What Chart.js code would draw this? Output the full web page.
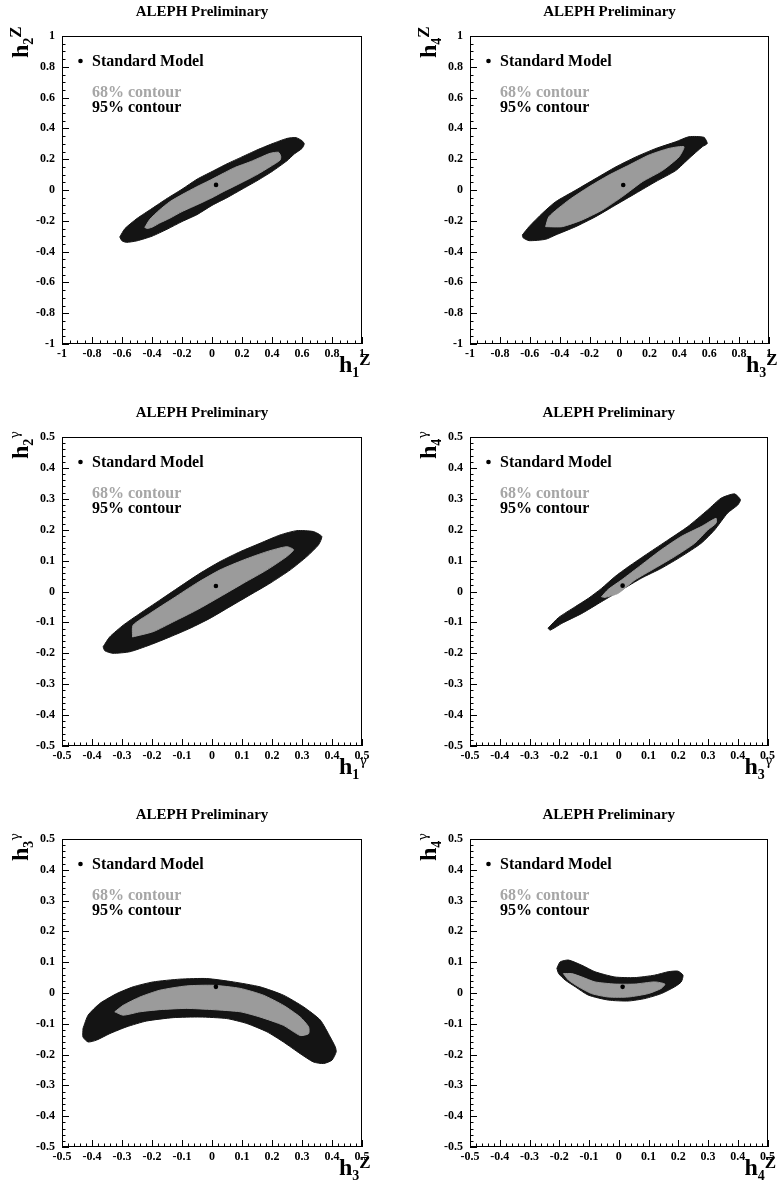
<!DOCTYPE html>
<html><head><meta charset="utf-8">
<script src="https://cdn.jsdelivr.net/npm/chart.js@4.4.1/dist/chart.umd.min.js"></script>
<style>
html,body{margin:0;padding:0;background:#fff;width:778px;height:1184px;overflow:hidden}
canvas{position:absolute}
</style></head><body>
<canvas id="c1"></canvas><canvas id="c2"></canvas>
<canvas id="c3"></canvas><canvas id="c4"></canvas>
<canvas id="c5"></canvas><canvas id="c6"></canvas>
<script>
// ---- tick values / labels ----
const tickValsWide = [-1,-0.8,-0.6,-0.4,-0.2,0,0.2,0.4,0.6,0.8,1];
const tickLabelsWide = ['-1','-0.8','-0.6','-0.4','-0.2','0','0.2','0.4','0.6','0.8','1'];
const tickValsNarrow = [-0.5,-0.4,-0.3,-0.2,-0.1,0,0.1,0.2,0.3,0.4,0.5];
const tickLabelsNarrow = ['-0.5','-0.4','-0.3','-0.2','-0.1','0','0.1','0.2','0.3','0.4','0.5'];

const titleText = 'ALEPH Preliminary';
const legendLabels = ['Standard Model','68% contour','95% contour'];

// ---- Panel 1: h1Z vs h2Z ----
const p1SM = [[0.027,0.033]];
const p1Outer = [[-0.615,-0.305],[-0.58,-0.25],[-0.50,-0.185],[-0.40,-0.12],[-0.30,-0.055],[-0.20,0.005],[-0.10,0.07],[0.0,0.12],[0.10,0.17],[0.20,0.215],[0.30,0.26],[0.40,0.30],[0.50,0.335],[0.56,0.34],[0.60,0.32],[0.615,0.30],
  [0.60,0.27],[0.55,0.235],[0.50,0.19],[0.40,0.12],[0.30,0.06],[0.20,0.005],[0.10,-0.05],[0.0,-0.10],[-0.10,-0.16],[-0.20,-0.205],[-0.30,-0.255],[-0.40,-0.30],[-0.50,-0.33],[-0.57,-0.34],[-0.60,-0.33]];
const p1Inner = [[-0.448,-0.243],[-0.414,-0.19],[-0.35,-0.13],[-0.281,-0.076],[-0.20,-0.03],[-0.102,0.021],[0.0,0.07],[0.075,0.108],[0.15,0.145],[0.254,0.183],[0.33,0.215],[0.387,0.238],[0.443,0.245],[0.458,0.22],
  [0.454,0.194],[0.387,0.151],[0.30,0.10],[0.254,0.076],[0.15,0.025],[0.075,-0.011],[0.0,-0.05],[-0.102,-0.097],[-0.20,-0.14],[-0.281,-0.183],[-0.35,-0.215],[-0.392,-0.238],[-0.43,-0.25]];

// ---- Panel 2: h3Z vs h4Z ----
const p2SM = [[0.025,0.032]];
const p2Outer = [[-0.650,-0.292],[-0.605,-0.238],[-0.516,-0.151],[-0.427,-0.076],[-0.291,0.0],[-0.157,0.076],[-0.023,0.151],[0.110,0.215],[0.244,0.270],[0.376,0.313],[0.465,0.346],[0.565,0.342],[0.587,0.302],
  [0.554,0.281],[0.465,0.205],[0.376,0.126],[0.242,0.054],[0.108,-0.022],[-0.025,-0.097],[-0.159,-0.173],[-0.293,-0.238],[-0.427,-0.292],[-0.494,-0.320],[-0.605,-0.329],[-0.645,-0.31]];
const p2Inner = [[-0.494,-0.238],[-0.472,-0.173],[-0.338,-0.065],[-0.204,0.021],[-0.070,0.097],[0.064,0.162],[0.197,0.227],[0.331,0.270],[0.431,0.281],
  [0.398,0.215],[0.286,0.126],[0.153,0.054],[0.019,-0.043],[-0.115,-0.130],[-0.249,-0.194],[-0.383,-0.238]];

// ---- Panel 3: h1g vs h2g ----
const p3SM = [[0.013,0.018]];
const p3Outer = [[-0.363,-0.179],[-0.341,-0.147],[-0.296,-0.109],[-0.240,-0.071],[-0.174,-0.028],[-0.107,0.016],[-0.040,0.059],[0.027,0.097],[0.094,0.129],[0.160,0.156],[0.227,0.183],[0.283,0.197],[0.338,0.194],[0.366,0.178],
  [0.355,0.151],[0.316,0.113],[0.261,0.070],[0.194,0.027],[0.127,-0.011],[0.060,-0.049],[-0.007,-0.087],[-0.073,-0.119],[-0.140,-0.147],[-0.207,-0.173],[-0.274,-0.195],[-0.330,-0.200],[-0.357,-0.192]];
const p3Inner = [[-0.265,-0.147],[-0.263,-0.109],[-0.207,-0.071],[-0.129,-0.022],[-0.051,0.027],[0.027,0.070],[0.105,0.102],[0.183,0.129],[0.249,0.145],[0.272,0.135],
  [0.249,0.113],[0.183,0.070],[0.105,0.027],[0.027,-0.017],[-0.051,-0.060],[-0.129,-0.098],[-0.196,-0.130]];

// ---- Panel 4: h3g vs h4g ----
const p4SM = [[0.013,0.019]];
const p4Outer = [[-0.238,-0.119],[-0.202,-0.084],[-0.146,-0.049],[-0.102,-0.022],[-0.058,0.010],[-0.013,0.048],[0.032,0.080],[0.099,0.124],[0.166,0.167],[0.232,0.210],[0.299,0.264],[0.344,0.302],[0.389,0.316],[0.409,0.297],
  [0.400,0.280],[0.366,0.254],[0.322,0.199],[0.277,0.156],[0.210,0.113],[0.143,0.075],[0.076,0.043],[0.009,0.005],[-0.058,-0.033],[-0.124,-0.071],[-0.191,-0.103],[-0.230,-0.125]];
const p4Inner = [[-0.058,-0.017],[-0.035,0.007],[0.009,0.037],[0.076,0.086],[0.143,0.135],[0.210,0.178],[0.277,0.210],[0.327,0.237],[0.327,0.221],
  [0.299,0.199],[0.255,0.156],[0.188,0.113],[0.121,0.075],[0.054,0.037],[-0.002,-0.006],[-0.046,-0.019]];

// ---- Panel 5: h3Z vs h3g ----
const p5SM = [[0.013,0.020]];
const p5Outer = [[-0.430,-0.115],[-0.413,-0.072],[-0.374,-0.034],[-0.318,-0.002],[-0.263,0.020],[-0.196,0.036],[-0.107,0.045],[-0.018,0.047],[0.071,0.036],[0.160,0.020],[0.238,-0.007],[0.305,-0.045],[0.361,-0.088],[0.394,-0.143],[0.411,-0.175],[0.414,-0.191],
  [0.400,-0.218],[0.372,-0.229],[0.338,-0.224],[0.294,-0.197],[0.238,-0.159],[0.183,-0.126],[0.116,-0.099],[0.049,-0.083],[-0.040,-0.078],[-0.129,-0.080],[-0.218,-0.091],[-0.285,-0.110],[-0.341,-0.132],[-0.385,-0.153],[-0.413,-0.159],[-0.430,-0.143]];
const p5Inner = [[-0.324,-0.061],[-0.296,-0.040],[-0.240,-0.013],[-0.174,0.009],[-0.085,0.023],[0.004,0.025],[0.094,0.015],[0.171,-0.007],[0.238,-0.040],[0.294,-0.078],[0.322,-0.110],[0.322,-0.132],
  [0.294,-0.138],[0.238,-0.105],[0.160,-0.078],[0.094,-0.061],[0.004,-0.054],[-0.085,-0.050],[-0.174,-0.054],[-0.240,-0.061],[-0.296,-0.072]];

// ---- Panel 6: h4Z vs h4g ----
const p6SM = [[0.013,0.020]];
const p6Outer = [[-0.208,0.080],[-0.197,0.101],[-0.169,0.107],[-0.124,0.090],[-0.080,0.069],[-0.013,0.052],[0.054,0.050],[0.121,0.058],[0.166,0.069],[0.199,0.071],[0.216,0.058],
  [0.210,0.036],[0.188,0.020],[0.143,-0.002],[0.088,-0.018],[0.032,-0.026],[-0.035,-0.023],[-0.102,-0.007],[-0.146,0.020],[-0.180,0.042],[-0.202,0.063]];
const p6Inner = [[-0.186,0.063],[-0.158,0.063],[-0.124,0.052],[-0.080,0.036],[-0.013,0.029],[0.054,0.029],[0.121,0.036],[0.155,0.029],
  [0.143,0.015],[0.099,-0.002],[0.032,-0.013],[-0.035,-0.013],[-0.091,-0.002],[-0.135,0.020],[-0.169,0.042]];

// ---- layout ----
const SERIF = '"Liberation Serif", "Times New Roman", serif';
const wide = {vals:tickValsWide, labels:tickLabelsWide, major:0.2, minor:0.05, R:1};
const narrow = {vals:tickValsNarrow, labels:tickLabelsNarrow, major:0.1, minor:0.02, R:0.5};

const panels = [
  {id:'c1', left:0,   top:0,   w:389, h:390, area:{l:62, t:36, r:362, b:344}, ax:wide,   xt:['1','Z',false], yt:['2','Z',false], sm:p1SM, outer:p1Outer, inner:p1Inner},
  {id:'c2', left:389, top:0,   w:389, h:390, area:{l:81, t:36, r:380, b:344}, ax:wide,   xt:['3','Z',false], yt:['4','Z',false], sm:p2SM, outer:p2Outer, inner:p2Inner},
  {id:'c3', left:0,   top:390, w:389, h:390, area:{l:62, t:47, r:362, b:356}, ax:narrow, xt:['1','γ',true],  yt:['2','γ',true],  sm:p3SM, outer:p3Outer, inner:p3Inner},
  {id:'c4', left:389, top:390, w:389, h:390, area:{l:81, t:47, r:380, b:356}, ax:narrow, xt:['3','γ',true],  yt:['4','γ',true],  sm:p4SM, outer:p4Outer, inner:p4Inner},
  {id:'c5', left:0,   top:780, w:389, h:404, area:{l:62, t:59, r:362, b:367}, ax:narrow, xt:['3','Z',false], yt:['3','γ',true],  sm:p5SM, outer:p5Outer, inner:p5Inner},
  {id:'c6', left:389, top:780, w:389, h:404, area:{l:81, t:59, r:380, b:367}, ax:narrow, xt:['4','Z',false], yt:['4','γ',true],  sm:p6SM, outer:p6Outer, inner:p6Inner}
];

function closedPts(arr){
  const p = arr.map(a => ({x:a[0], y:a[1]}));
  p.push({x:arr[0][0], y:arr[0][1]});
  return p;
}

function drawAxisTitle(ctx, x, y, rotate, t){
  ctx.save();
  ctx.translate(x, y);
  if (rotate) ctx.rotate(-Math.PI/2);
  ctx.fillStyle = '#000';
  ctx.textAlign = 'left';
  ctx.textBaseline = 'alphabetic';
  ctx.font = 'bold 24px ' + SERIF;
  ctx.fillText('h', 0, 0);
  const wh = ctx.measureText('h').width;
  ctx.font = 'bold 14px ' + SERIF;
  ctx.fillText(t[0], wh, 5);
  const ws = ctx.measureText(t[0]).width;
  if (t[2]) {
    ctx.font = '13px "DejaVu Serif", serif';
    ctx.fillText(t[1], wh + ws, -9);
  } else {
    ctx.font = 'bold 17px ' + SERIF;
    ctx.fillText(t[1], wh + ws, -7);
  }
  ctx.restore();
}

panels.forEach(P => {
  const cv = document.getElementById(P.id);
  cv.width = P.w; cv.height = P.h;
  cv.style.left = P.left + 'px'; cv.style.top = P.top + 'px';
  cv.style.width = P.w + 'px'; cv.style.height = P.h + 'px';
  const ax = P.ax;

  const deco = {
    id: 'deco' + P.id,
    afterDatasetsDraw(chart){
      const ctx = chart.ctx, a = chart.chartArea, xs = chart.scales.x, ys = chart.scales.y;
      ctx.save();
      ctx.strokeStyle = '#000';
      ctx.lineWidth = 1;
      ctx.strokeRect(Math.round(a.left) + 0.5, Math.round(a.top) + 0.5, Math.round(a.right - a.left) - 1, Math.round(a.bottom - a.top) - 1);
      ctx.beginPath();
      const n = Math.round(2 * ax.R / ax.minor);
      for (let k = 0; k <= n; k++) {
        const v = -ax.R + k * ax.minor;
        const q = v / ax.major;
        const isMajor = Math.abs(q - Math.round(q)) < 1e-6;
        const len = isMajor ? 7 : 3.5;
        const px = Math.round(xs.getPixelForValue(v)) + 0.5;
        ctx.moveTo(px, a.bottom); ctx.lineTo(px, a.bottom - len);
        const py = Math.round(ys.getPixelForValue(v)) + 0.5;
        ctx.moveTo(a.left, py); ctx.lineTo(a.left + len, py);
      }
      ctx.stroke();
      ctx.restore();
    },
    afterDraw(chart){
      const ctx = chart.ctx, a = chart.chartArea;
      ctx.save();
      // title
      ctx.fillStyle = '#000';
      ctx.font = 'bold 15px ' + SERIF;
      ctx.textAlign = 'center';
      ctx.textBaseline = 'middle';
      ctx.fillText(titleText, (a.left + a.right) / 2 - 10, a.top - 24);
      // legend
      ctx.beginPath();
      ctx.arc(a.left + 18.5, a.top + 25, 2.3, 0, Math.PI * 2);
      ctx.fill();
      ctx.textAlign = 'left';
      ctx.font = 'bold 16px ' + SERIF;
      ctx.fillText(legendLabels[0], a.left + 30, a.top + 26);
      ctx.fillStyle = '#a6a6a6';
      ctx.fillText(legendLabels[1], a.left + 30, a.top + 57);
      ctx.fillStyle = '#000';
      ctx.fillText(legendLabels[2], a.left + 30, a.top + 72);
      ctx.restore();
      // axis titles
      drawAxisTitle(ctx, a.right - 23, a.bottom + 28, false, P.xt);
      drawAxisTitle(ctx, a.left - 34, a.top + 22, true, P.yt);
    }
  };

  const tickFont = {family: SERIF, size: 12, weight: 'bold'};
  new Chart(cv.getContext('2d'), {
    type: 'line',
    data: {
      datasets: [
        {label: legendLabels[0], data: P.sm.map(a => ({x:a[0], y:a[1]})), showLine: false,
         pointRadius: 2.3, pointBackgroundColor: '#000', pointBorderColor: '#000', pointBorderWidth: 0},
        {label: legendLabels[1], data: closedPts(P.inner), showLine: true, fill: 'shape',
         backgroundColor: '#9b9b9b', borderColor: '#9b9b9b', borderWidth: 1, pointRadius: 0, tension: 0.2},
        {label: legendLabels[2], data: closedPts(P.outer), showLine: true, fill: 'shape',
         backgroundColor: '#141414', borderColor: '#141414', borderWidth: 1, pointRadius: 0, tension: 0.2}
      ]
    },
    options: {
      responsive: false,
      animation: false,
      devicePixelRatio: 1,
      events: [],
      layout: {padding: {left: 0, top: P.area.t, right: P.w - P.area.r, bottom: 0}},
      plugins: {legend: {display: false}, tooltip: {enabled: false}, title: {display: false}},
      scales: {
        x: {
          type: 'linear', min: -ax.R, max: ax.R,
          grid: {display: false, drawTicks: false}, border: {display: false},
          ticks: {autoSkip: false, maxRotation: 0, minRotation: 0, padding: 3, color: '#000', font: tickFont,
                  callback: (v, i) => ax.labels[i]},
          afterBuildTicks: s => { s.ticks = ax.vals.map(v => ({value: v})); },
          afterFit: s => { s.height = P.h - P.area.b; }
        },
        y: {
          type: 'linear', min: -ax.R, max: ax.R,
          grid: {display: false, drawTicks: false}, border: {display: false},
          ticks: {autoSkip: false, padding: 7, color: '#000', font: tickFont,
                  callback: (v, i) => ax.labels[i]},
          afterBuildTicks: s => { s.ticks = ax.vals.map(v => ({value: v})); },
          afterFit: s => { s.width = P.area.l; }
        }
      }
    },
    plugins: [deco]
  });
});
</script>
</body></html>
